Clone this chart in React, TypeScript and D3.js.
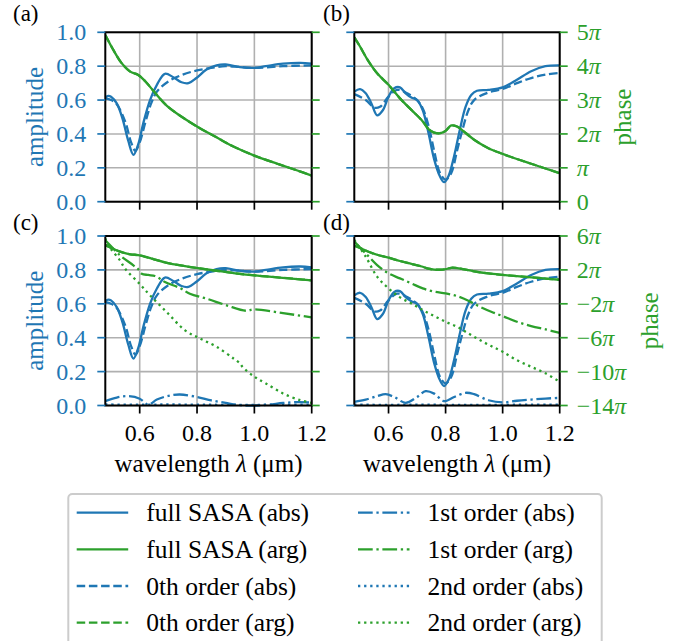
import React from 'react';
import * as d3 from 'd3';

// ---------- data (wavelength in µm, amplitude 0..1, phase in units of π) ----------
// Panels (a)/(c) structure
const lamA_full = [0.48, 0.49, 0.5, 0.52, 0.54, 0.56, 0.578, 0.595, 0.612, 0.636, 0.66, 0.688, 0.717, 0.746, 0.77, 0.798, 0.833, 0.868, 0.9, 0.95, 1.0, 1.04, 1.1, 1.16, 1.2];
const absA_full = [0.615, 0.625, 0.62, 0.58, 0.49, 0.36, 0.277, 0.34, 0.46, 0.6, 0.69, 0.755, 0.735, 0.705, 0.7, 0.73, 0.78, 0.805, 0.81, 0.795, 0.79, 0.8, 0.815, 0.82, 0.815];
const lamA_0th = [0.48, 0.5, 0.52, 0.55, 0.57, 0.585, 0.6, 0.62, 0.64, 0.66, 0.7, 0.75, 0.8, 0.85, 0.9, 0.95, 1.0, 1.1, 1.2];
const absA_0th = [0.61, 0.6, 0.575, 0.47, 0.35, 0.3, 0.35, 0.47, 0.58, 0.65, 0.71, 0.75, 0.775, 0.79, 0.8, 0.795, 0.79, 0.8, 0.805];
const lamA_arg = [0.48, 0.508, 0.537, 0.567, 0.595, 0.62, 0.65, 0.695, 0.753, 0.81, 0.868, 0.927, 1.0, 1.08, 1.15, 1.2];
const argA_full = [4.92, 4.48, 4.09, 3.84, 3.74, 3.55, 3.25, 2.83, 2.47, 2.17, 1.9, 1.63, 1.36, 1.12, 0.92, 0.77];
const argA_0th = [4.92, 4.48, 4.09, 3.84, 3.74, 3.55, 3.25, 2.83, 2.47, 2.17, 1.9, 1.63, 1.36, 1.12, 0.92, 0.77];
const lamA_1abs = [0.48, 0.52, 0.56, 0.6, 0.63, 0.66, 0.7, 0.74, 0.8, 0.85, 0.9, 0.95, 1.0, 1.05, 1.1, 1.15, 1.2];
const absA_1st = [0.026, 0.047, 0.055, 0.04, 0.005, 0.035, 0.057, 0.065, 0.05, 0.03, 0.015, 0.002, 0.0, 0.005, 0.015, 0.02, 0.018];
const lamA_2abs = [0.48, 0.6, 0.7, 0.8, 0.9, 1.0, 1.1, 1.2];
const absA_2nd = [0.006, 0.005, 0.006, 0.005, 0.004, 0.004, 0.005, 0.005];
const lamA_1arg = [0.48, 0.514, 0.534, 0.578, 0.595, 0.607, 0.63, 0.653, 0.671, 0.688, 0.74, 0.775, 0.834, 0.903, 0.97, 1.0, 1.1, 1.2];
const argA_1st = [5.5, 4.31, 3.64, 2.54, 2.07, 1.55, 1.4, 1.28, 0.96, 0.57, -0.13, -0.81, -1.4, -2.18, -2.82, -2.66, -3.1, -3.61];
const lamA_2arg = [0.48, 0.49, 0.531, 0.549, 0.6, 0.636, 0.694, 0.758, 0.81, 0.868, 0.927, 0.95, 0.96, 1.0, 1.04, 1.1, 1.16, 1.2];
const argA_2nd = [5.72, 4.9, 3.13, 2.14, 0.34, -1.0, -2.97, -5.13, -6.09, -7.07, -8.45, -9.04, -9.5, -10.6, -11.4, -12.58, -13.37, -13.69];

// Panels (b)/(d) structure
const lamB_full = [0.48, 0.5, 0.52, 0.54, 0.56, 0.58, 0.6, 0.62, 0.64, 0.66, 0.68, 0.7, 0.72, 0.74, 0.76, 0.78, 0.795, 0.81, 0.83, 0.85, 0.87, 0.89, 0.91, 0.95, 1.0, 1.05, 1.1, 1.15, 1.2];
const absB_full = [0.65, 0.665, 0.64, 0.58, 0.51, 0.54, 0.62, 0.67, 0.675, 0.64, 0.615, 0.6, 0.54, 0.405, 0.25, 0.15, 0.115, 0.15, 0.27, 0.425, 0.56, 0.63, 0.655, 0.66, 0.675, 0.72, 0.77, 0.8, 0.805];
const lamB_0th = [0.48, 0.52, 0.55, 0.57, 0.6, 0.63, 0.66, 0.7, 0.72, 0.74, 0.76, 0.78, 0.8, 0.82, 0.84, 0.86, 0.88, 0.9, 0.95, 1.0, 1.05, 1.1, 1.15, 1.2];
const absB_0th = [0.635, 0.6, 0.555, 0.56, 0.62, 0.66, 0.645, 0.6, 0.55, 0.45, 0.3, 0.17, 0.13, 0.17, 0.3, 0.43, 0.54, 0.6, 0.645, 0.665, 0.7, 0.73, 0.75, 0.76];
const lamB_arg = [0.48, 0.5, 0.53, 0.56, 0.6, 0.64, 0.68, 0.72, 0.74, 0.76, 0.78, 0.8, 0.82, 0.84, 0.86, 0.9, 0.95, 1.0, 1.05, 1.1, 1.15, 1.2];
const argB_full = [4.85, 4.58, 4.14, 3.79, 3.45, 3.05, 2.71, 2.37, 2.14, 2.04, 2.02, 2.09, 2.25, 2.22, 2.1, 1.83, 1.58, 1.41, 1.26, 1.12, 0.98, 0.84];
const argB_0th = [4.85, 4.58, 4.14, 3.79, 3.45, 3.05, 2.71, 2.37, 2.14, 2.04, 2.02, 2.09, 2.25, 2.22, 2.1, 1.83, 1.58, 1.41, 1.26, 1.12, 0.98, 0.84];
const lamB_1abs = [0.48, 0.52, 0.56, 0.59, 0.62, 0.66, 0.7, 0.73, 0.76, 0.79, 0.8, 0.83, 0.87, 0.9, 0.95, 1.0, 1.05, 1.1, 1.15, 1.2];
const absB_1st = [0.022, 0.035, 0.055, 0.067, 0.05, 0.016, 0.05, 0.085, 0.07, 0.028, 0.026, 0.05, 0.075, 0.067, 0.031, 0.018, 0.028, 0.035, 0.041, 0.045];
const lamB_2abs = [0.48, 0.6, 0.7, 0.8, 0.9, 1.0, 1.1, 1.2];
const absB_2nd = [0.005, 0.004, 0.005, 0.004, 0.004, 0.004, 0.005, 0.005];
const lamB_1arg = [0.48, 0.52, 0.56, 0.6, 0.64, 0.68, 0.72, 0.76, 0.8, 0.84, 0.88, 0.92, 0.96, 1.0, 1.05, 1.1, 1.15, 1.2];
const argB_1st = [5.33, 3.95, 2.57, 1.59, 1.0, 0.41, -0.18, -0.57, -0.77, -1.09, -1.64, -2.35, -2.94, -3.45, -4.12, -4.63, -5.02, -5.42];
const lamB_2arg = [0.48, 0.52, 0.56, 0.6, 0.64, 0.68, 0.72, 0.76, 0.8, 0.84, 0.88, 0.92, 0.96, 1.0, 1.05, 1.1, 1.15, 1.2];
const argB_2nd = [5.53, 3.56, 1.2, -0.18, -1.24, -1.95, -2.74, -3.45, -4.12, -4.71, -5.5, -6.28, -6.99, -7.66, -8.65, -9.43, -10.2, -11.2];

const xTicks = [0.6, 0.8, 1.0, 1.2];
const ampTicks = [0, 0.2, 0.4, 0.6, 0.8, 1.0];
const phaseTicksTop = [0, 1, 2, 3, 4, 5];
const phaseTicksBottom = [-14, -10, -6, -2, 2, 6];

const legendCol1 = ['full SASA (abs)', 'full SASA (arg)', '0th order (abs)', '0th order (arg)'];
const legendCol2 = ['1st order (abs)', '1st order (arg)', '2nd order (abs)', '2nd order (arg)'];

// ---------- styling ----------
const BLUE = '#1f77b4';
const GREEN = '#2ca02c';
const FONT = 'Liberation Serif';
const FS_TICK = 24;
const FS_LABEL = 25;
const FS_LEG = 25.5;
const FS_PANEL = 23;
const LW = 2.3;
const DASH: Record<string, string | undefined> = {
  solid: undefined,
  dashed: `${3.7 * LW},${1.6 * LW}`,
  dashdot: `${6.4 * LW},${1.6 * LW},${1 * LW},${1.6 * LW}`,
  dotted: `${1 * LW},${1.65 * LW}`,
};

type Series = { xs: number[]; ys: number[]; color: string; style: string; axis: 'amp' | 'phase' };

const panelSeries: Record<string, Series[]> = {
  a: [
    { xs: lamA_full, ys: absA_full, color: BLUE, style: 'solid', axis: 'amp' },
    { xs: lamA_0th, ys: absA_0th, color: BLUE, style: 'dashed', axis: 'amp' },
    { xs: lamA_arg, ys: argA_0th, color: GREEN, style: 'dashed', axis: 'phase' },
    { xs: lamA_arg, ys: argA_full, color: GREEN, style: 'solid', axis: 'phase' },
  ],
  b: [
    { xs: lamB_full, ys: absB_full, color: BLUE, style: 'solid', axis: 'amp' },
    { xs: lamB_0th, ys: absB_0th, color: BLUE, style: 'dashed', axis: 'amp' },
    { xs: lamB_arg, ys: argB_0th, color: GREEN, style: 'dashed', axis: 'phase' },
    { xs: lamB_arg, ys: argB_full, color: GREEN, style: 'solid', axis: 'phase' },
  ],
  c: [
    { xs: lamA_full, ys: absA_full, color: BLUE, style: 'solid', axis: 'amp' },
    { xs: lamA_0th, ys: absA_0th, color: BLUE, style: 'dashed', axis: 'amp' },
    { xs: lamA_1abs, ys: absA_1st, color: BLUE, style: 'dashdot', axis: 'amp' },
    { xs: lamA_2abs, ys: absA_2nd, color: BLUE, style: 'dotted', axis: 'amp' },
    { xs: lamA_arg, ys: argA_0th, color: GREEN, style: 'dashed', axis: 'phase' },
    { xs: lamA_arg, ys: argA_full, color: GREEN, style: 'solid', axis: 'phase' },
    { xs: lamA_1arg, ys: argA_1st, color: GREEN, style: 'dashdot', axis: 'phase' },
    { xs: lamA_2arg, ys: argA_2nd, color: GREEN, style: 'dotted', axis: 'phase' },
  ],
  d: [
    { xs: lamB_full, ys: absB_full, color: BLUE, style: 'solid', axis: 'amp' },
    { xs: lamB_0th, ys: absB_0th, color: BLUE, style: 'dashed', axis: 'amp' },
    { xs: lamB_1abs, ys: absB_1st, color: BLUE, style: 'dashdot', axis: 'amp' },
    { xs: lamB_2abs, ys: absB_2nd, color: BLUE, style: 'dotted', axis: 'amp' },
    { xs: lamB_arg, ys: argB_0th, color: GREEN, style: 'dashed', axis: 'phase' },
    { xs: lamB_arg, ys: argB_full, color: GREEN, style: 'solid', axis: 'phase' },
    { xs: lamB_1arg, ys: argB_1st, color: GREEN, style: 'dashdot', axis: 'phase' },
    { xs: lamB_2arg, ys: argB_2nd, color: GREEN, style: 'dotted', axis: 'phase' },
  ],
};

type PanelCfg = {
  key: string; label: string; labelX: number; labelY: number;
  x0: number; x1: number; y0: number; y1: number;
  phaseDomain: [number, number]; phaseTicks: number[];
  leftLabels: boolean; rightLabels: boolean; bottomLabels: boolean; phaseLabelX: number;
};

const panels: PanelCfg[] = [
  { key: 'a', label: '(a)', labelX: 13, labelY: 21, x0: 105.3, x1: 311.7, y0: 32.3, y1: 201.7, phaseDomain: [0, 5], phaseTicks: phaseTicksTop, leftLabels: true, rightLabels: false, bottomLabels: false, phaseLabelX: 0 },
  { key: 'b', label: '(b)', labelX: 323, labelY: 21, x0: 354.3, x1: 559.7, y0: 32.3, y1: 201.7, phaseDomain: [0, 5], phaseTicks: phaseTicksTop, leftLabels: false, rightLabels: true, bottomLabels: false, phaseLabelX: 631 },
  { key: 'c', label: '(c)', labelX: 13, labelY: 230, x0: 105.3, x1: 311.7, y0: 236, y1: 405.5, phaseDomain: [-14, 6], phaseTicks: phaseTicksBottom, leftLabels: true, rightLabels: false, bottomLabels: true, phaseLabelX: 0 },
  { key: 'd', label: '(d)', labelX: 323, labelY: 230, x0: 354.3, x1: 559.7, y0: 236, y1: 405.5, phaseDomain: [-14, 6], phaseTicks: phaseTicksBottom, leftLabels: false, rightLabels: true, bottomLabels: true, phaseLabelX: 658 },
];

function PiLabel({ k }: { k: number }) {
  if (k === 0) return <>0</>;
  const sign = k < 0 ? '\u2212' : '';
  const mag = Math.abs(k);
  return (
    <>
      {sign}
      {mag === 1 ? '' : String(mag)}
      <tspan fontStyle="italic">π</tspan>
    </>
  );
}

function Panel({ cfg }: { cfg: PanelCfg }) {
  const x = d3.scaleLinear().domain([0.48, 1.2]).range([cfg.x0, cfg.x1]);
  const yA = d3.scaleLinear().domain([0, 1]).range([cfg.y1, cfg.y0]);
  const yP = d3.scaleLinear().domain(cfg.phaseDomain).range([cfg.y1, cfg.y0]);
  const clipId = `clip-${cfg.key}`;
  const series = panelSeries[cfg.key];
  const tickLen = 8;
  const midY = (cfg.y0 + cfg.y1) / 2;
  const midX = (cfg.x0 + cfg.x1) / 2;

  return (
    <g>
      <defs>
        <clipPath id={clipId}>
          <rect x={cfg.x0} y={cfg.y0 - 2} width={cfg.x1 - cfg.x0} height={cfg.y1 - cfg.y0 + 4} />
        </clipPath>
      </defs>
      {xTicks.map((t) => (
        <line key={'gx' + t} x1={x(t)} x2={x(t)} y1={cfg.y0} y2={cfg.y1} stroke="#b0b0b0" strokeWidth={1.6} />
      ))}
      {ampTicks.map((t) => (
        <line key={'gy' + t} x1={cfg.x0} x2={cfg.x1} y1={yA(t)} y2={yA(t)} stroke="#b0b0b0" strokeWidth={1.6} />
      ))}
      <g clipPath={`url(#${clipId})`}>
        {series.map((s, i) => {
          const ys = s.axis === 'amp' ? yA : yP;
          const pts: [number, number][] = s.xs.map((xv, j) => [x(xv), ys(s.ys[j])]);
          const path = d3.line().curve(d3.curveCatmullRom.alpha(0.5))(pts) || '';
          return (
            <path key={i} d={path} fill="none" stroke={s.color} strokeWidth={LW}
              strokeDasharray={DASH[s.style]} strokeLinecap="butt" strokeLinejoin="round" />
          );
        })}
      </g>
      <rect x={cfg.x0} y={cfg.y0} width={cfg.x1 - cfg.x0} height={cfg.y1 - cfg.y0} fill="none" stroke="#000" strokeWidth={2} />
      {ampTicks.map((t) => (
        <g key={'lt' + t}>
          <line x1={cfg.x0 - tickLen} x2={cfg.x0} y1={yA(t)} y2={yA(t)} stroke={BLUE} strokeWidth={1.7} />
          {cfg.leftLabels && (
            <text x={cfg.x0 - 19} y={yA(t)} dy="0.34em" textAnchor="end" fill={BLUE} fontSize={FS_TICK} fontFamily={FONT}>
              {t.toFixed(1)}
            </text>
          )}
        </g>
      ))}
      {cfg.phaseTicks.map((t) => (
        <g key={'rt' + t}>
          <line x1={cfg.x1} x2={cfg.x1 + tickLen} y1={yP(t)} y2={yP(t)} stroke={GREEN} strokeWidth={1.7} />
          {cfg.rightLabels && (
            <text x={cfg.x1 + 17} y={yP(t)} dy="0.34em" textAnchor="start" fill={GREEN} fontSize={FS_TICK} fontFamily={FONT}>
              <PiLabel k={t} />
            </text>
          )}
        </g>
      ))}
      {xTicks.map((t) => (
        <g key={'bt' + t}>
          <line x1={x(t)} x2={x(t)} y1={cfg.y1} y2={cfg.y1 + tickLen} stroke="#000" strokeWidth={1.7} />
          {cfg.bottomLabels && (
            <text x={x(t)} y={cfg.y1 + 35} textAnchor="middle" fill="#000" fontSize={FS_TICK} fontFamily={FONT}>
              {t.toFixed(1)}
            </text>
          )}
        </g>
      ))}
      {cfg.bottomLabels && (
        <text x={midX} y={cfg.y1 + 66.5} textAnchor="middle" fill="#000" fontSize={FS_LABEL} fontFamily={FONT}>
          wavelength <tspan fontStyle="italic">λ</tspan> (μm)
        </text>
      )}
      {cfg.leftLabels && (
        <text transform={`translate(43,${midY}) rotate(-90)`} textAnchor="middle" fill={BLUE} fontSize={FS_LABEL} fontFamily={FONT}>
          amplitude
        </text>
      )}
      {cfg.rightLabels && (
        <text transform={`translate(${cfg.phaseLabelX},${midY}) rotate(-90)`} textAnchor="middle" fill={GREEN} fontSize={FS_LABEL} fontFamily={FONT}>
          phase
        </text>
      )}
      <text x={cfg.labelX} y={cfg.labelY} fill="#000" fontSize={FS_PANEL} fontFamily={FONT}>
        {cfg.label}
      </text>
    </g>
  );
}

function LegendEntry({ x, y, text, color, style }: { x: number; y: number; text: string; color: string; style: string }) {
  return (
    <g>
      <line x1={x} x2={x + 51.5} y1={y} y2={y} stroke={color} strokeWidth={LW} strokeDasharray={DASH[style]} />
      <text x={x + 69.5} y={y + 8.5} fill="#000" fontSize={FS_LEG} fontFamily={FONT}>{text}</text>
    </g>
  );
}

export default function App() {
  const rowY = [512.7, 549.3, 586, 622.6];
  const styles1 = [['solid', BLUE], ['solid', GREEN], ['dashed', BLUE], ['dashed', GREEN]];
  const styles2 = [['dashdot', BLUE], ['dashdot', GREEN], ['dotted', BLUE], ['dotted', GREEN]];
  return (
    <svg width={684} height={641} style={{ position: 'absolute', left: 0, top: 0, display: 'block' }}>
      <rect x={0} y={0} width={684} height={641} fill="#fff" />
      {panels.map((p) => (
        <Panel key={p.key} cfg={p} />
      ))}
      <rect x={68.3} y={494} width={533.4} height={170} rx={4} fill="#fff" stroke="#cccccc" strokeWidth={2} />
      {legendCol1.map((t, i) => (
        <LegendEntry key={t} x={76.7} y={rowY[i]} text={t} color={styles1[i][1]} style={styles1[i][0]} />
      ))}
      {legendCol2.map((t, i) => (
        <LegendEntry key={t} x={358} y={rowY[i]} text={t} color={styles2[i][1]} style={styles2[i][0]} />
      ))}
    </svg>
  );
}
